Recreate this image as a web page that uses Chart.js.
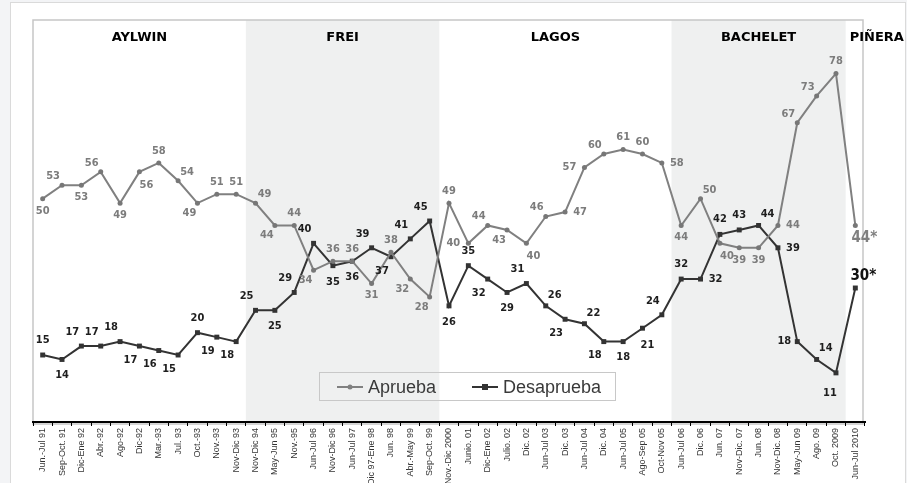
<!DOCTYPE html>
<html>
<head>
<meta charset="utf-8">
<script src="https://cdn.jsdelivr.net/npm/chart.js@4/dist/chart.umd.min.js"></script>
<style>
  html, body { margin: 0; padding: 0; background: #f3f4f6; }
  #wrap { position: relative; width: 907px; height: 483px; overflow: hidden; }
  #panel { position: absolute; left: 10px; top: 2px; width: 894px; height: 490px; background: #fff; border: 1px solid #dadada; }
  #donde { position: absolute; left: 0; top: 0; }
</style>
</head>
<body>
<div id="wrap">
  <div id="panel"></div>
  <canvas id="donde" width="907" height="483"></canvas>
</div>
<script>
const periods = [
  'Jun.-Jul 91', 'Sep-Oct. 91', 'Dic-Ene 92', 'Abr.-92', 'Ago-92', 'Dic-92', 'Mar.-93', 'Jul. 93',
  'Oct.-93', 'Nov.-93', 'Nov-Dic 93', 'Nov-Dic 94', 'May-Jun 95', 'Nov.-95', 'Jun-Jul 96',
  'Nov-Dic 96', 'Jun-Jul 97', 'Dic 97-Ene 98', 'Jun. 98', 'Abr.-May 99', 'Sep-Oct. 99',
  'Nov.-Dic 2000', 'Junio. 01', 'Dic-Ene 02', 'Julio. 02', 'Dic. 02', 'Jun-Jul 03', 'Dic. 03',
  'Jun-Jul 04', 'Dic. 04', 'Jun-Jul 05', 'Ago-Sep 05', 'Oct-Nov 05', 'Jun-Jul 06', 'Dic. 06',
  'Jun. 07', 'Nov-Dic. 07', 'Jun. 08', 'Nov-Dic. 08', 'May-Jun 09', 'Ago. 09', 'Oct. 2009',
  'Jun-Jul 2010'
];

const aprueba = [50, 53, 53, 56, 49, 56, 58, 54, 49, 51, 51, 49, 44, 44, 34, 36, 36, 31, 38, 32, 28,
  49, 40, 44, 43, 40, 46, 47, 57, 60, 61, 60, 58, 44, 50, 40, 39, 39, 44, 67, 73, 78, 44];

const desaprueba = [15, 14, 17, 17, 18, 17, 16, 15, 20, 19, 18, 25, 25, 29, 40, 35, 36, 39, 37, 41, 45,
  26, 35, 32, 29, 31, 26, 23, 22, 18, 18, 21, 24, 32, 32, 42, 43, 44, 39, 18, 14, 11, 30];

const presidents = ['AYLWIN', 'FREI', 'LAGOS', 'BACHELET', 'PIÑERA'];
const termStart = [0, 11, 21, 33, 42];

// where each value label sits relative to its point
const aprPos = ['s','nw','s','nw','s','se','n','ne','sw','n','n','ne','sw','n','sw','n','n','s','n','sw','sw',
  'n','w','nw','sw','se','nw','e','w','nw','n','n','e','s','ne','se','s','s','e','nw','nw','n','last'];
const desPos = ['n','s','nw','nw','nw','sw','sw','sw','n','sw','sw','nw','s','nw','nw','s','s','nw','sw','nw','nw',
  's','n','sw','s','nw','ne','sw','ne','sw','s','se','nw','n','e','n','n','ne','e','w','ne','ss','last'];

const OFF_APR = { n:[0,-12], s:[0,12], nw:[-9,-9], ne:[9,-9], sw:[-8,10], se:[7,13], e:[15,0], w:[-15,0], last:[9,13] };
const OFF_DES = { n:[0,-15], s:[0,16], ss:[-6,20], nw:[-9,-14], ne:[9,-11], sw:[-9,14], se:[5,17], e:[15,0], w:[-13,0], last:[8,-12] };

const LABEL_FONT = 'bold 11px "DejaVu Sans Condensed", "Liberation Sans Narrow", "Roboto Condensed", Roboto, sans-serif';

function edgeX(xs, i){
  // pixel of the boundary just left of category i
  const step = xs.getPixelForValue(1) - xs.getPixelForValue(0);
  return xs.getPixelForValue(i) - step / 2;
}

const backdrop = {
  id: 'backdrop',
  beforeDraw(chart){
    const { ctx, chartArea: a, scales: { x } } = chart;
    ctx.save();
    ctx.fillStyle = '#eff0f0';
    for (let k = 0; k < presidents.length; k++){
      if (k % 2 === 0) continue;
      const x0 = edgeX(x, termStart[k]);
      const x1 = k + 1 < termStart.length ? edgeX(x, termStart[k + 1]) : a.right;
      ctx.fillRect(x0, a.top, x1 - x0, a.bottom - a.top);
    }
    ctx.strokeStyle = '#c6c6c6';
    ctx.lineWidth = 1.5;
    ctx.strokeRect(a.left, a.top, 863 - a.left, a.bottom - a.top + 2);

    ctx.fillStyle = '#000';
    ctx.font = 'bold 13px "DejaVu Sans", sans-serif';
    ctx.textBaseline = 'middle';
    for (let k = 0; k < presidents.length; k++){
      const x0 = edgeX(x, termStart[k]);
      if (k + 1 < termStart.length){
        const x1 = edgeX(x, termStart[k + 1]);
        ctx.textAlign = 'center';
        ctx.fillText(presidents[k], (x0 + x1) / 2, 38);
      } else {
        ctx.textAlign = 'left';
        ctx.fillText(presidents[k], x0 + 4, 38);
      }
    }
    ctx.restore();
  }
};

const valueLabels = {
  id: 'valueLabels',
  afterDatasetsDraw(chart){
    const ctx = chart.ctx;
    const setup = [
      { pos: aprPos, off: OFF_APR, color: '#7c7c7c', lastColor: '#808080' },
      { pos: desPos, off: OFF_DES, color: '#1e1e1e', lastColor: '#111' }
    ];
    ctx.save();
    ctx.textAlign = 'center';
    ctx.textBaseline = 'middle';
    chart.data.datasets.forEach((ds, di) => {
      const meta = chart.getDatasetMeta(di);
      const s = setup[di];
      meta.data.forEach((pt, i) => {
        const p = s.pos[i];
        const o = s.off[p];
        let txt = String(ds.data[i]);
        if (p === 'last'){
          txt += '*';
          ctx.font = 'bold 15px "DejaVu Sans Condensed", Roboto, sans-serif';
          ctx.fillStyle = s.lastColor;
        } else {
          ctx.font = LABEL_FONT;
          ctx.fillStyle = s.color;
        }
        ctx.fillText(txt, pt.x + o[0], pt.y + o[1]);
      });
    });
    ctx.restore();
  }
};

const legendBox = {
  id: 'legendBox',
  afterDraw(chart){
    const ctx = chart.ctx;
    ctx.save();
    ctx.strokeStyle = '#c8c8c8';
    ctx.lineWidth = 1;
    ctx.strokeRect(319.5, 372.5, 296, 28);
    const items = [
      { name: 'Aprueba', x: 337, color: '#808080', rect: false },
      { name: 'Desaprueba', x: 472, color: '#333', rect: true }
    ];
    ctx.font = '18px "Liberation Sans", Arial, sans-serif';
    ctx.textBaseline = 'middle';
    ctx.textAlign = 'left';
    items.forEach(it => {
      ctx.strokeStyle = it.color;
      ctx.fillStyle = it.color;
      ctx.lineWidth = 2;
      ctx.beginPath();
      ctx.moveTo(it.x, 387);
      ctx.lineTo(it.x + 26, 387);
      ctx.stroke();
      if (it.rect) ctx.fillRect(it.x + 10, 384, 6, 6);
      else { ctx.beginPath(); ctx.arc(it.x + 13, 387, 2.5, 0, Math.PI * 2); ctx.fill(); }
      ctx.fillStyle = '#3a3a3a';
      ctx.fillText(it.name, it.x + 31, 388);
    });
    ctx.restore();
  }
};

new Chart(document.getElementById('donde').getContext('2d'), {
  type: 'line',
  data: {
    labels: periods,
    datasets: [
      {
        label: 'Aprueba', data: aprueba,
        borderColor: '#808080', backgroundColor: '#777', borderWidth: 2,
        pointStyle: 'circle', pointRadius: 2.5, pointBorderWidth: 0, tension: 0
      },
      {
        label: 'Desaprueba', data: desaprueba,
        borderColor: '#333', backgroundColor: '#333', borderWidth: 2,
        pointStyle: 'rect', pointRadius: 3.5, pointBorderWidth: 0, tension: 0
      }
    ]
  },
  options: {
    responsive: false,
    animation: false,
    events: [],
    layout: { padding: { left: 33, right: 42, top: 20, bottom: 0 } },
    plugins: { legend: { display: false }, tooltip: { enabled: false } },
    scales: {
      x: {
        offset: true,
        grid: { display: true, offset: true, drawOnChartArea: false, drawTicks: true, tickLength: 4, color: '#000' },
        border: { display: true, color: '#000', width: 2 },
        ticks: {
          autoSkip: false, minRotation: 90, maxRotation: 90, padding: 2,
          color: '#333', font: { size: 9, family: '"Liberation Sans", Arial, sans-serif' }
        },
        afterFit(scale){ scale.height = 61; }
      },
      y: { display: false, min: 0, max: 90 }
    }
  },
  plugins: [backdrop, valueLabels, legendBox]
});
</script>
</body>
</html>
